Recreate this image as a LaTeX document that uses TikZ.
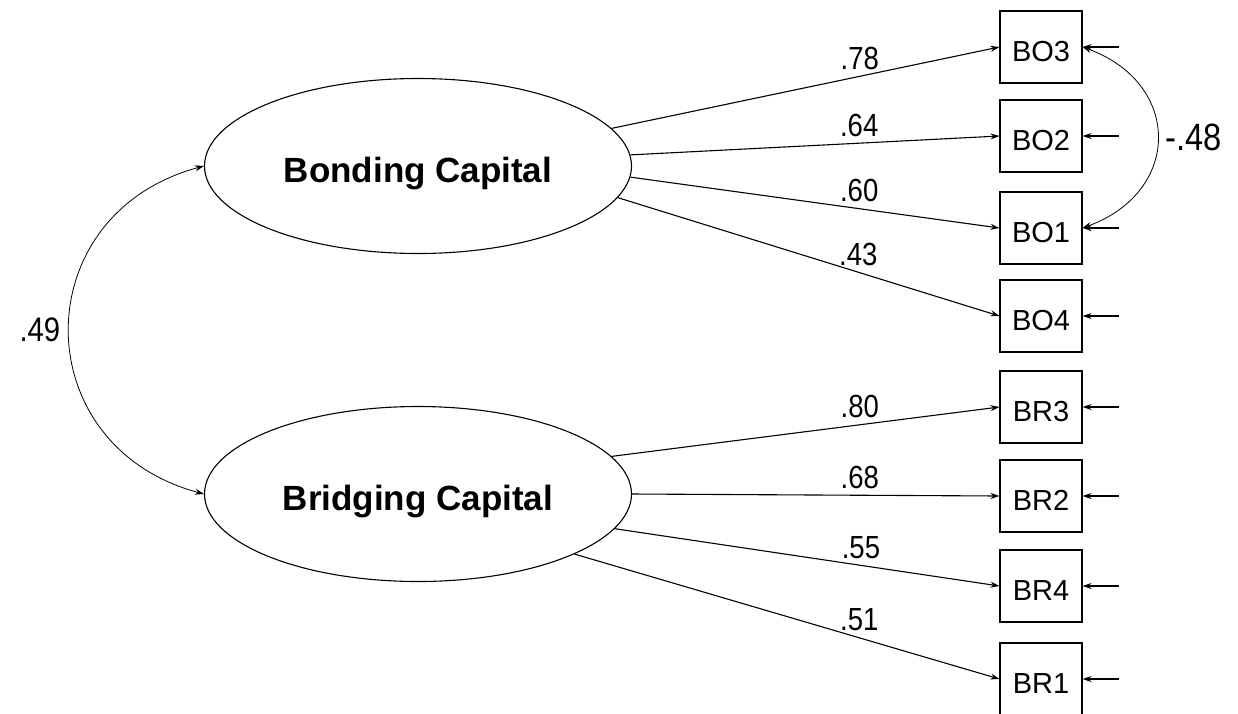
\documentclass[tikz,border=0pt]{standalone}
\usepackage{fontspec}
\setmainfont{Liberation Sans}
\newfontfamily\numfont[FakeStretch=0.86]{Liberation Sans}
\usetikzlibrary{shapes,arrows.meta,positioning,calc}

\begin{document}
\begin{tikzpicture}[x=1pt, y=-1pt, >={Stealth[length=9pt,width=6pt]}, line width=1.1pt,
    latent/.style={draw, ellipse, minimum width=427pt, minimum height=175pt, inner sep=0pt,
      font=\fontsize{35}{40}\selectfont\bfseries, text height=33pt, text depth=0pt},
    item/.style={draw, rectangle, minimum width=82pt, minimum height=72pt, inner sep=0pt,
      font=\fontsize{29}{33}\selectfont, text height=29pt, text depth=0pt},
    coef/.style={font=\numfont\fontsize{32}{36}\selectfont, inner sep=0pt, above=6pt},
    cov/.style={<->, line width=0.8pt}]
        \useasboundingbox (0,0) rectangle (1238,713);

        \node[latent] (Bond) at (418,166) {Bonding Capital};
        \node[latent] (Bridge) at (418,494) {Bridging Capital};

        \node[item] (BO3) at (1041,47) {BO3};
        \node[item] (BO2) at (1041,136) {BO2};
        \node[item] (BO1) at (1041,228) {BO1};
        \node[item] (BO4) at (1041,316) {BO4};
        \node[item] (BR3) at (1041,407) {BR3};
        \node[item] (BR2) at (1041,496) {BR2};
        \node[item] (BR4) at (1041,586) {BR4};
        \node[item] (BR1) at (1041,679) {BR1};

        % error terms
        \coordinate[right=36pt of BO3] (eBO3);
        \coordinate[right=36pt of BO2] (eBO2);
        \coordinate[right=36pt of BO1] (eBO1);
        \coordinate[right=36pt of BO4] (eBO4);
        \coordinate[right=36pt of BR3] (eBR3);
        \coordinate[right=36pt of BR2] (eBR2);
        \coordinate[right=36pt of BR4] (eBR4);
        \coordinate[right=36pt of BR1] (eBR1);

        \path[->] (eBO3) edge (BO3)
              (eBO2) edge (BO2)
              (eBO1) edge (BO1)
              (eBO4) edge (BO4)
              (eBR3) edge (BR3)
              (eBR2) edge (BR2)
              (eBR4) edge (BR4)
              (eBR1) edge (BR1);

        % loadings
        \path[->] (Bond.11) edge node[coef, pos=0.64] {.78} (BO3.west)
              (Bond.3) edge node[coef, pos=0.62] {.64} (BO2.west)
              (Bond.-3) edge node[coef, pos=0.62] {.60} (BO1.west)
              (Bond.-9) edge node[coef, pos=0.63] {.43} (BO4.west)
              (Bridge.11) edge node[coef, pos=0.64] {.80} (BR3.west)
              (Bridge.0) edge node[coef, pos=0.62] {.68} (BR2.west)
              (Bridge.-10) edge node[coef, pos=0.64] {.55} (BR4.west)
              (Bridge.-21) edge node[coef, pos=0.67] {.51} (BR1.west);

        % covariances
        \draw[cov] (Bond.west) to[out=195, in=165, looseness=1.45]
              node[left=9pt, font=\numfont\fontsize{34}{38}\selectfont, inner sep=0pt] {.49} (Bridge.west);
        \draw[cov] (BO3.east) to[out=-20, in=20, looseness=1.5]
              node[right=8pt, font=\numfont\fontsize{38}{42}\selectfont, inner sep=0pt] {-.48} (BO1.east);
    \end{tikzpicture}
\end{document}
